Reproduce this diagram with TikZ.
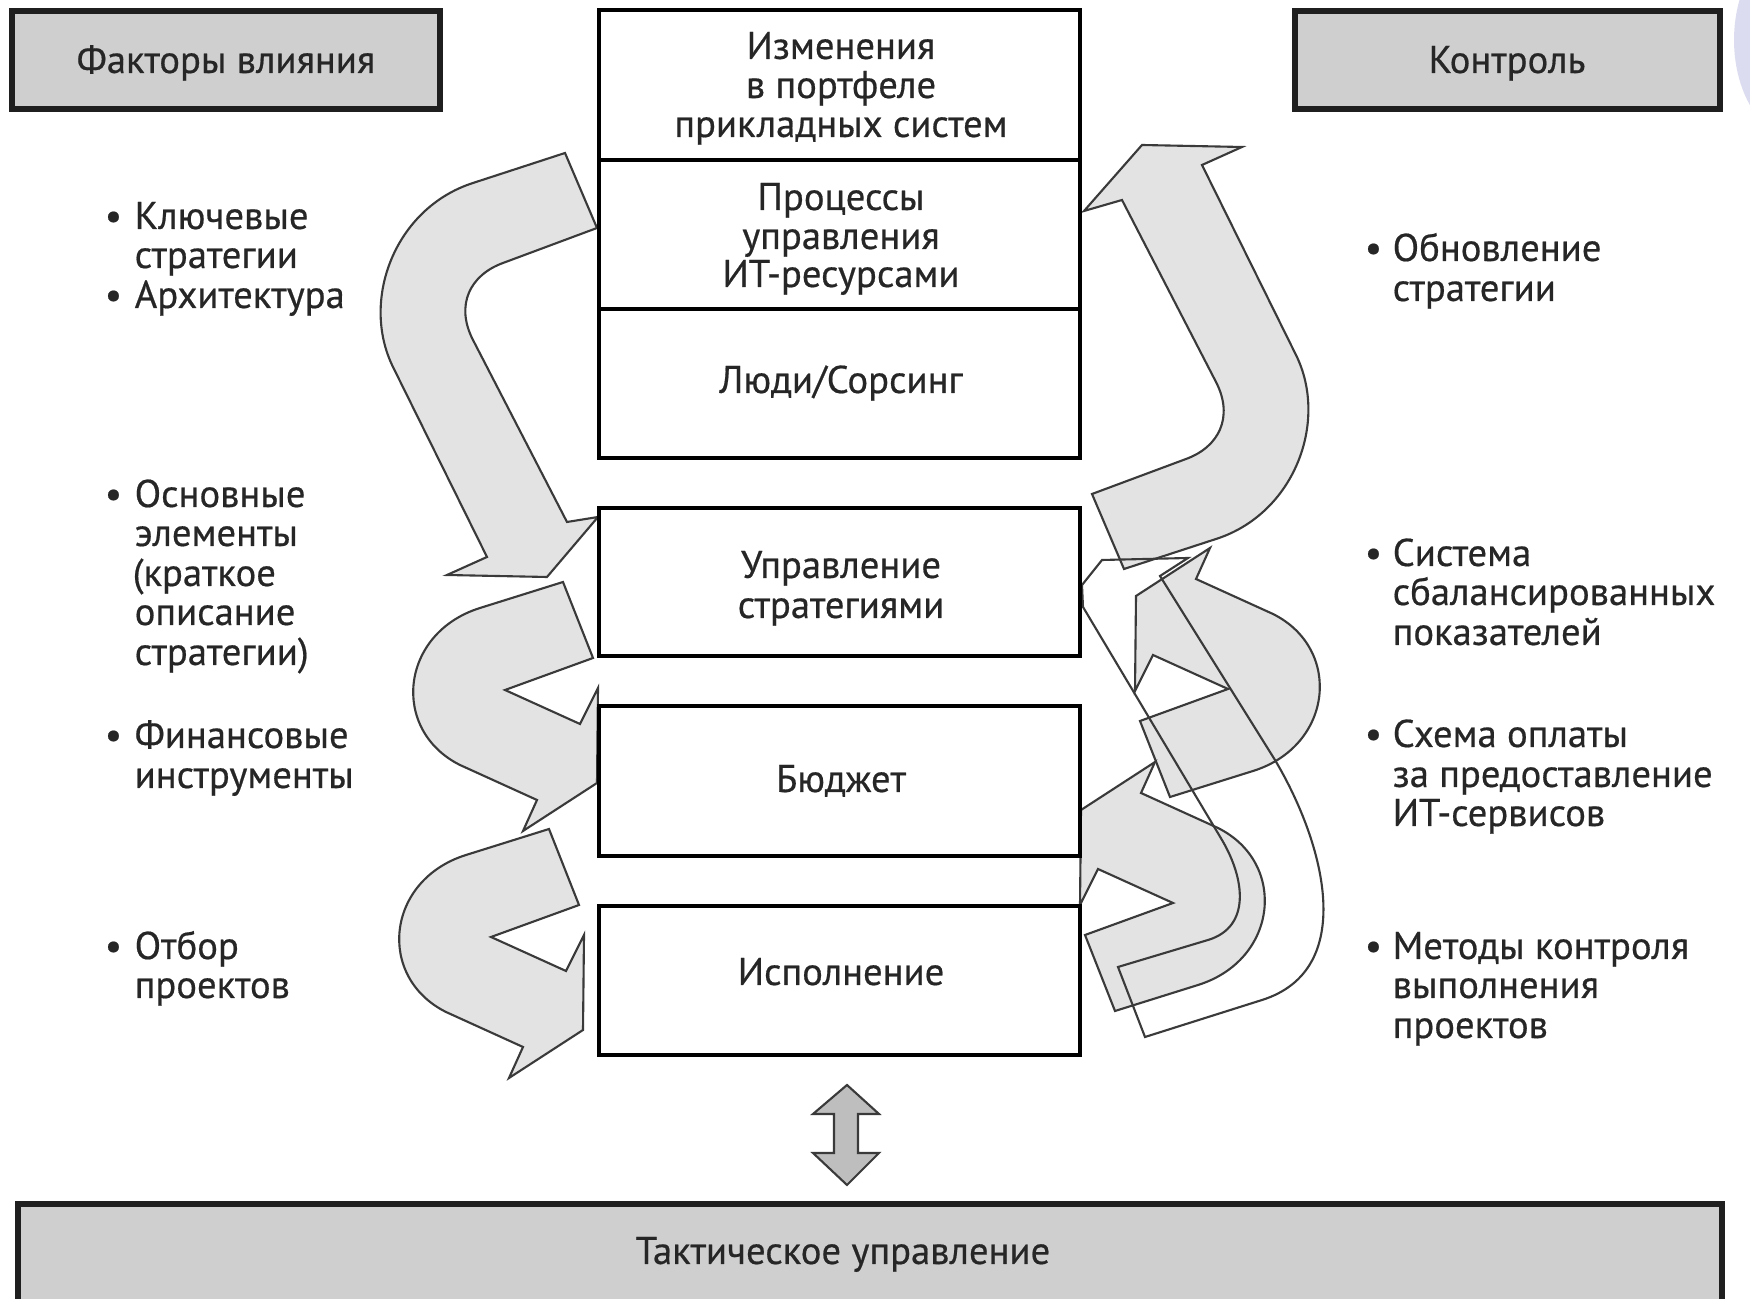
\documentclass[tikz,border=0pt]{standalone}
\usepackage{fontspec}
\setmainfont{PT Sans}[FakeBold=0.5]
\definecolor{arrowfill}{HTML}{E3E3E3}
\definecolor{arrowline}{HTML}{3A3A3A}
\definecolor{hboxfill}{HTML}{CFCFCF}
\definecolor{dblfill}{HTML}{BEBEBE}
\definecolor{txtcol}{HTML}{262626}
\definecolor{lav}{HTML}{DCDCF0}
\tikzset{
  garrow/.style={fill=arrowfill, draw=arrowline, line width=0.6pt, line join=miter},
  oarrow/.style={draw=arrowline, line width=0.6pt, line join=miter},
  cbox/.style={draw=black, line width=1.2pt, fill=white},
  hbox/.style={draw=black!88, line width=1.8pt, fill=hboxfill},
  txt/.style={font=\fontsize{11pt}{11pt}\selectfont, text=txtcol, inner sep=0pt},
  ctxt/.style={txt, anchor=base},
  ltxt/.style={txt, anchor=base west}
}
\begin{document}
\begin{tikzpicture}[x=0.1mm, y=-0.1mm]
\useasboundingbox (0,0) rectangle (1750,1299);
\clip (0,0) rectangle (1750,1299);
\fill[white] (0,0) rectangle (1750,1299);
% lavender shape at the right edge
\fill[lav] (1800,40) ellipse [x radius=6.6mm, y radius=10mm];

% ---- left arrows ----
\draw[garrow] (565,153) -- (473,183) .. controls (395,208) and (360,300) .. (393,367)
  -- (487,557) -- (447,575) -- (547,577) -- (598,517) -- (567,522)
  -- (473,340) .. controls (455,305) and (470,275) .. (503,263) -- (597,228) -- cycle;
\draw[garrow] (563,582) -- (480,608) .. controls (400,633) and (390,730) .. (460,765)
  -- (537,800) -- (523,831) -- (597,783) -- (598,688) -- (580,724) -- (505,690) -- (593,658) -- cycle;
\draw[garrow] (549,829) -- (466,855) .. controls (386,880) and (376,977) .. (446,1012)
  -- (523,1047) -- (509,1078) -- (583,1030) -- (584,935) -- (566,971) -- (491,937) -- (579,905) -- cycle;

% ---- right arrows ----
\draw[garrow] (1124,569) -- (1216,539) .. controls (1294,514) and (1329,422) .. (1296,355)
  -- (1202,165) -- (1242,147) -- (1142,145) -- (1084,211) -- (1122,200)
  -- (1216,382) .. controls (1234,417) and (1219,447) .. (1186,459) -- (1092,494) -- cycle;
\draw[garrow] (1170,797) -- (1253,771) .. controls (1333,746) and (1343,649) .. (1273,614)
  -- (1196,579) -- (1210,548) -- (1136,596) -- (1135,691) -- (1153,655) -- (1228,689) -- (1140,721) -- cycle;
\draw[garrow] (1115,1011) -- (1198,985) .. controls (1278,960) and (1288,863) .. (1218,828)
  -- (1141,793) -- (1155,762) -- (1081,810) -- (1080,905) -- (1098,869) -- (1173,903) -- (1085,935) -- cycle;
\draw[oarrow] (1082,585) -- (1102,560) -- (1188,558) -- (1160,576) -- (1275,760)
  .. controls (1326,846) and (1357,970) .. (1262,1000) -- (1145,1037) -- (1118,967) -- (1208,940)
  .. controls (1251,927) and (1245,879) .. (1222,840) -- (1083,607) -- cycle;

% ---- boxes ----
\draw[hbox] (12,11) rectangle (440,109);
\draw[hbox] (1295,11) rectangle (1720,109);
\draw[cbox] (599,10) rectangle (1080,458);
\draw[black, line width=1.2pt] (599,160) -- (1080,160);
\draw[black, line width=1.2pt] (599,309) -- (1080,309);
\draw[cbox] (599,508) rectangle (1080,656);
\draw[cbox] (599,706) rectangle (1080,856);
\draw[cbox] (599,906) rectangle (1080,1055);
\draw[hbox] (18,1204) rectangle (1722,1320);

% double arrow
\draw[fill=dblfill, draw=arrowline, line width=0.6pt] (847,1085) -- (879,1114) -- (858,1114) -- (858,1153)
  -- (879,1153) -- (847,1185) -- (813,1153) -- (834,1153) -- (834,1114) -- (813,1114) -- cycle;

% ---- texts ----
\node[ctxt] (fac) at (226,73) {Факторы влияния};
\node[ctxt] (ctl) at (1507,73) {Контроль};
\node[ctxt] (c1a) at (841,59) {Изменения};
\node[ctxt] (c1b) at (841,98) {в портфеле};
\node[ctxt] (c1c) at (841,137) {прикладных систем};
\node[ctxt] (c2a) at (841,210) {Процессы};
\node[ctxt] (c2b) at (841,249) {управления};
\node[ctxt] (c2c) at (841,287) {ИТ-ресурсами};
\node[ctxt] (c3) at (841,393) {Люди/Сорсинг};
\node[ctxt] (c4a) at (841,578) {Управление};
\node[ctxt] (c4b) at (841,618) {стратегиями};
\node[ctxt] (c5) at (841,792) {Бюджет};
\node[ctxt] (c6) at (841,985) {Исполнение};
\node[ctxt] (tak) at (843,1264) {Тактическое управление};

% left bullets
\node[ltxt] (lb1) at (104,229) {•};
\node[ltxt] (l1a) at (134,229) {Ключевые};
\node[ltxt] (l1b) at (134,268) {стратегии};
\node[ltxt] (lb2) at (104,308) {•};
\node[ltxt] (l2a) at (134,308) {Архитектура};
\node[ltxt] (lb3) at (104,507) {•};
\node[ltxt] (l3a) at (134,507) {Основные};
\node[ltxt] (l3b) at (134,546) {элементы};
\node[ltxt] (l3c) at (132,586) {(краткое};
\node[ltxt] (l3d) at (134,625) {описание};
\node[ltxt] (l3e) at (134,665) {стратегии)};
\node[ltxt] (lb4) at (104,748) {•};
\node[ltxt] (l4a) at (134,748) {Финансовые};
\node[ltxt] (l4b) at (134,788) {инструменты};
\node[ltxt] (lb5) at (104,959) {•};
\node[ltxt] (l5a) at (134,959) {Отбор};
\node[ltxt] (l5b) at (134,998) {проектов};

% right bullets
\node[ltxt] (rb1) at (1364,261) {•};
\node[ltxt] (r1a) at (1392,261) {Обновление};
\node[ltxt] (r1b) at (1392,301) {стратегии};
\node[ltxt] (rb2) at (1364,566) {•};
\node[ltxt] (r2a) at (1392,566) {Система};
\node[ltxt] (r2b) at (1392,605) {сбалансированных};
\node[ltxt] (r2c) at (1392,645) {показателей};
\node[ltxt] (rb3) at (1364,747) {•};
\node[ltxt] (r3a) at (1392,747) {Схема оплаты};
\node[ltxt] (r3b) at (1392,787) {за предоставление};
\node[ltxt] (r3c) at (1392,826) {ИТ-сервисов};
\node[ltxt] (rb4) at (1364,959) {•};
\node[ltxt] (r4a) at (1392,959) {Методы контроля};
\node[ltxt] (r4b) at (1392,998) {выполнения};
\node[ltxt] (r4c) at (1392,1038) {проектов};
\end{tikzpicture}
\end{document}
